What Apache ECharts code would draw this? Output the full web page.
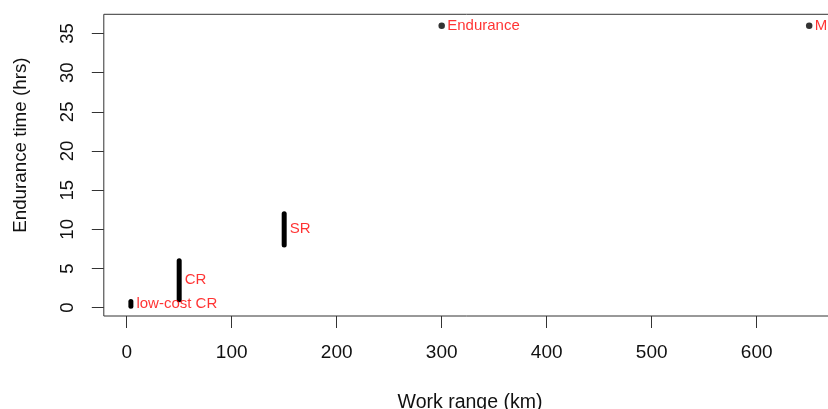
<!DOCTYPE html>
<html>
<head>
<meta charset="utf-8">
<script src="https://cdn.jsdelivr.net/npm/echarts@6/dist/echarts.min.js"></script>
<style>
html,body{margin:0;padding:0;background:#fff;}
#c{width:828px;height:409px;}
</style>
</head>
<body>
<div id="c"></div>
<script>
// Range segments (x = work range km, y from low to high endurance hrs)
const segNames = ['low-cost CR', 'CR', 'SR'];
const segX = [4, 50, 150];
const segLow = [0.2, 1, 8];
const segHigh = [0.8, 6, 12];
// Single points
const ptNames = ['Endurance', 'MR'];
const ptX = [300, 650];
const ptY = [36, 36];
// Tick labels
const xTicks = [0, 100, 200, 300, 400, 500, 600];
const yTicks = [0, 5, 10, 15, 20, 25, 30, 35];

const FONT = "'Liberation Sans', Arial, sans-serif";
const chart = echarts.init(document.getElementById('c'), null, {renderer: 'canvas'});

const xMin = -21.8, xMax = 675.8, yMin = -1.06, yMax = 37.45;

const series = [];
segX.forEach((x, i) => {
  series.push({
    type: 'line',
    data: [[x, segLow[i]], [x, segHigh[i]]],
    symbol: 'none',
    lineStyle: {color: '#000', width: 5, cap: 'round'},
    silent: true,
    z: 3
  });
});
series.push({
  type: 'scatter',
  data: ptX.map((x, i) => [x, ptY[i]]),
  symbol: 'circle',
  symbolSize: 6.5,
  itemStyle: {color: '#000'},
  z: 3
});
// labels: at segment midpoints and at points
const labData = segX.map((x, i) => ({value: [x, (segLow[i] + segHigh[i]) / 2], name: segNames[i]}))
  .concat(ptX.map((x, i) => ({value: [x, ptY[i]], name: ptNames[i]})));
series.push({
  type: 'scatter',
  data: labData,
  symbolSize: 1,
  itemStyle: {color: 'rgba(0,0,0,0)'},
  label: {
    show: true,
    position: 'right',
    distance: 5,
    formatter: p => p.name,
    color: '#ff0000',
    fontSize: 15,
    fontFamily: FONT
  },
  labelLayout: {hideOverlap: false},
  z: 4
});

chart.setOption({
  animation: false,
  backgroundColor: '#fff',
  grid: {
    left: 103.8,
    top: 14.3,
    width: (xMax - xMin) * 1.05,
    height: 301.7,
    show: true,
    borderColor: '#333',
    borderWidth: 1,
    backgroundColor: 'transparent',
    containLabel: false,
    outerBoundsMode: 'none'
  },
  xAxis: {
    type: 'value',
    min: xMin,
    max: xMax,
    name: 'Work range (km)',
    nameLocation: 'middle',
    nameGap: 77,
    nameTextStyle: {fontSize: 19.5, fontFamily: FONT, color: '#111'},
    axisLine: {show: false, onZero: false},
    splitLine: {show: false},
    axisTick: {show: true, inside: false, length: 12, customValues: xTicks, lineStyle: {color: '#333', width: 1}},
    axisLabel: {customValues: xTicks, fontSize: 19, fontFamily: FONT, color: '#111', margin: 27}
  },
  yAxis: {
    type: 'value',
    min: yMin,
    max: yMax,
    name: 'Endurance time (hrs)',
    nameLocation: 'middle',
    nameGap: 73.5,
    nameTextStyle: {fontSize: 18.8, fontFamily: FONT, color: '#111', padding: [0, 0, 0, 40]},
    axisLine: {show: false, onZero: false},
    splitLine: {show: false},
    axisTick: {show: true, inside: false, length: 12, customValues: yTicks, lineStyle: {color: '#333', width: 1}},
    axisLabel: {customValues: yTicks, rotate: 90, fontSize: 18.5, fontFamily: FONT, color: '#111', margin: 26}
  },
  series: series
});
</script>
</body>
</html>
